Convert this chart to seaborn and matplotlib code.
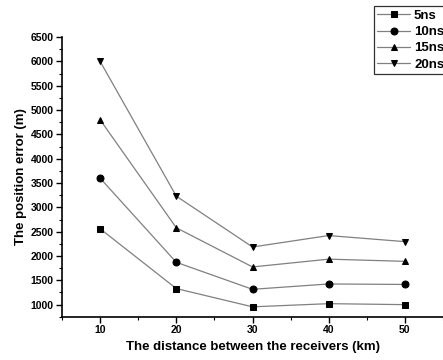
import numpy as np
import pandas as pd
import seaborn as sns
from matplotlib import pyplot as plt
from matplotlib.ticker import MultipleLocator

distance = [10, 20, 30, 40, 50]
err_5ns = [2560, 1330, 955, 1020, 1000]
err_10ns = [3600, 1870, 1315, 1425, 1415]
err_15ns = [4800, 2580, 1775, 1935, 1890]
err_20ns = [6000, 3230, 2185, 2420, 2295]
labels = ['5ns', '10ns', '15ns', '20ns']
markers = ['s', 'o', '^', 'v']

sns.set_theme(style='ticks')
plt.rcParams['font.family'] = ['Liberation Sans', 'DejaVu Sans']
plt.rcParams['text.color'] = 'black'
plt.rcParams['axes.labelcolor'] = 'black'
plt.rcParams['xtick.color'] = 'black'
plt.rcParams['ytick.color'] = 'black'

fig = plt.figure(figsize=(4.43, 3.6), dpi=100)
ax = fig.add_axes([0.14, 0.12, 0.86, 0.777])

for vals, lab, m in zip([err_5ns, err_10ns, err_15ns, err_20ns], labels, markers):
    sns.lineplot(x=distance, y=vals, ax=ax, color='0.5', linewidth=0.9,
                 marker=m, markersize=5, markerfacecolor='black',
                 markeredgecolor='black', label=lab)

ax.set_xlim(5, 55)
ax.set_ylim(750, 6500)
ax.xaxis.set_major_locator(MultipleLocator(10))
ax.xaxis.set_minor_locator(MultipleLocator(5))
ax.yaxis.set_major_locator(MultipleLocator(500))
ax.yaxis.set_minor_locator(MultipleLocator(250))
ax.set_xticks([10, 20, 30, 40, 50])
ax.tick_params(axis='both', which='major', length=4, width=1, labelsize=7.5, pad=2)
ax.tick_params(axis='both', which='minor', length=2, width=0.8)
for t in ax.get_xticklabels() + ax.get_yticklabels():
    t.set_fontweight('bold')
for s in ['left', 'bottom']:
    ax.spines[s].set_linewidth(1.2)
    ax.spines[s].set_color('black')
sns.despine(ax=ax)

ax.set_xlabel('The distance between the receivers (km)', fontsize=9.5,
              fontweight='bold', labelpad=4)
ax.set_ylabel('The position error (m)', fontsize=9.5, fontweight='bold', labelpad=3)

leg = ax.legend(loc='upper right', bbox_to_anchor=(1.01, 0.982),
                bbox_transform=fig.transFigure, fontsize=9.5,
                frameon=True, fancybox=False, edgecolor='black',
                handlelength=2.5, handletextpad=0.3, borderpad=0.25,
                labelspacing=0.3, borderaxespad=0)
leg.get_frame().set_linewidth(0.9)
for t in leg.get_texts():
    t.set_fontweight('bold')

fig.savefig('out.png', dpi=100)
